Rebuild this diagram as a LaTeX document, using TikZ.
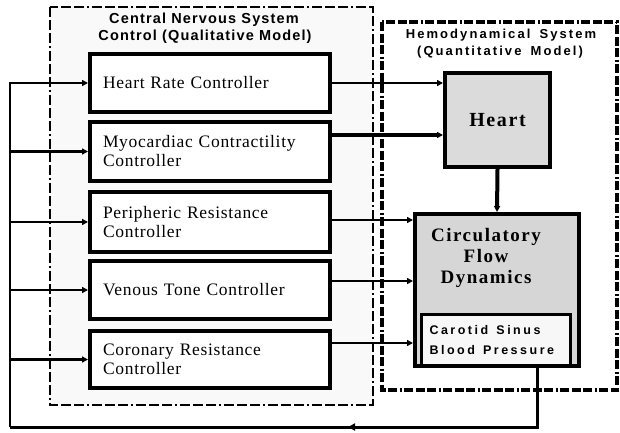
\documentclass[tikz,border=0pt]{standalone}
\usepackage{fontspec}
\setmainfont{Liberation Serif}
\setsansfont{Liberation Sans}
\newfontfamily\ctrlfont[LetterSpace=4]{Liberation Serif}
\newfontfamily\bserif[LetterSpace=8]{Liberation Serif}
\newfontfamily\titlefont[LetterSpace=8]{Liberation Sans}
\newfontfamily\widefont[LetterSpace=16,WordSpace=1.6]{Liberation Sans}
\newfontfamily\carfont[LetterSpace=20]{Liberation Sans}
\usetikzlibrary{arrows.meta,decorations.markings}
\begin{document}
\begin{tikzpicture}[x=1pt,y=-1pt,
  ctrl/.style={draw,line width=4pt,fill=white,minimum width=240pt,minimum height=58pt,
    text width=214pt,inner xsep=13pt,inner ysep=0pt,align=left,
    font={\ctrlfont\fontsize{17.5}{19}\selectfont}},
  sysbox/.style={draw,line width=4pt,fill=gray!30,inner sep=0pt},
  tip/.style={-{Triangle[length=6pt,width=6pt]}},
  fbline/.style={line width=2.2pt},
  cnsborder/.style={line width=2.5pt,dash pattern=on 10pt off 3pt on 10pt off 3pt on 10pt off 3pt on 2pt off 3pt},
  hemoborder/.style={line width=3.5pt,dash pattern=on 9pt off 2.5pt on 9pt off 2.5pt on 9pt off 2.5pt on 2pt off 2.5pt},
  ctitle/.style={font={\titlefont\bfseries\fontsize{14.5}{16}\selectfont},inner sep=0pt},
  htitle/.style={font={\widefont\bfseries\fontsize{13}{14}\selectfont},inner sep=0pt},
  midarrow/.style={postaction={decorate},decoration={markings,
     mark=at position 249pt with {\arrow{Triangle[length=7pt,width=7pt]}}}}
]
\useasboundingbox (0,0) rectangle (620,432);

% system frames
\draw[cnsborder,fill=gray!5] (50,7) rectangle (373,405);
\draw[hemoborder,fill=white] (382,22) rectangle (617,390);

% titles
\node[ctitle] (cnst1) at (204,20) {Central Nervous System};
\node[ctitle] (cnst2) at (205,37) {Control (Qualitative Model)};
\node[htitle] (hemt1) at (501,35) {Hemodynamical System};
\node[htitle] (hemt2) at (500,52) {(Quantitative Model)};

% controllers
\node[ctrl] (hr) at (210,83) {Heart Rate Controller};
\node[ctrl,minimum height=59pt] (myo) at (210,151.5) {Myocardiac Contractility\\Controller};
\node[ctrl,minimum height=60pt] (per) at (210,222) {Peripheric Resistance\\Controller};
\node[ctrl] (ven) at (210,290) {Venous Tone Controller};
\node[ctrl,minimum height=57pt] (cor) at (210,359.5) {Coronary Resistance\\Controller};

% hemodynamical blocks
\node[sysbox,fill=gray!28,minimum width=105pt,minimum height=94pt,
  font={\bserif\bfseries\fontsize{20}{22}\selectfont}] (heart) at (497.5,120) {Heart};
\node[sysbox,fill=gray!32,minimum width=164pt,minimum height=152pt] (circ) at (497,290) {};
\node[draw,line width=3pt,fill=gray!6,minimum width=145pt,minimum height=51pt,
  text width=133pt,inner xsep=8pt,inner ysep=0pt,align=left,
  font={\carfont\bfseries\fontsize{12.5}{19.5}\selectfont}] (car) at (496,340)
  {Carotid\hspace{4pt} Sinus\\Blood\hspace{4pt} Pressure};
\node[align=center,inner sep=0pt,font={\bserif\bfseries\fontsize{19}{21}\selectfont}] (circtext) at (486,258)
  {Circulatory\\Flow\\Dynamics};

% heart -> circulation
\draw[line width=4pt,tip] (heart.south) -- (circ.north);

% controller outputs
\draw[line width=1.5pt,tip] (hr.east) coordinate (o1) -- (o1 -| heart.west);
\draw[line width=4pt,tip] ([yshift=16.5pt]myo.east) coordinate (o2) -- (o2 -| heart.west);
\draw[line width=2pt,tip] ([yshift=2pt]per.east) coordinate (o3) -- (o3 -| circ.west);
\draw[line width=2pt,tip] ([yshift=9pt]ven.east) coordinate (o4) -- (o4 -| circ.west);
\draw[line width=2pt,tip] ([yshift=16.5pt]cor.east) coordinate (o5) -- (o5 -| circ.west);

% feedback
\coordinate (fbL) at (10,427);
\draw[line width=3pt,midarrow] ([xshift=41pt]car.south) |- (fbL);
\draw[fbline,tip] (fbL) |- (hr.west);
\draw[fbline,tip] (fbL |- myo.west) -- (myo.west);
\draw[fbline,tip] (fbL |- per.west) -- (per.west);
\draw[fbline,tip] (fbL |- ven.west) -- (ven.west);
\draw[fbline,tip] (fbL |- cor.west) -- (cor.west);
\end{tikzpicture}
\end{document}
